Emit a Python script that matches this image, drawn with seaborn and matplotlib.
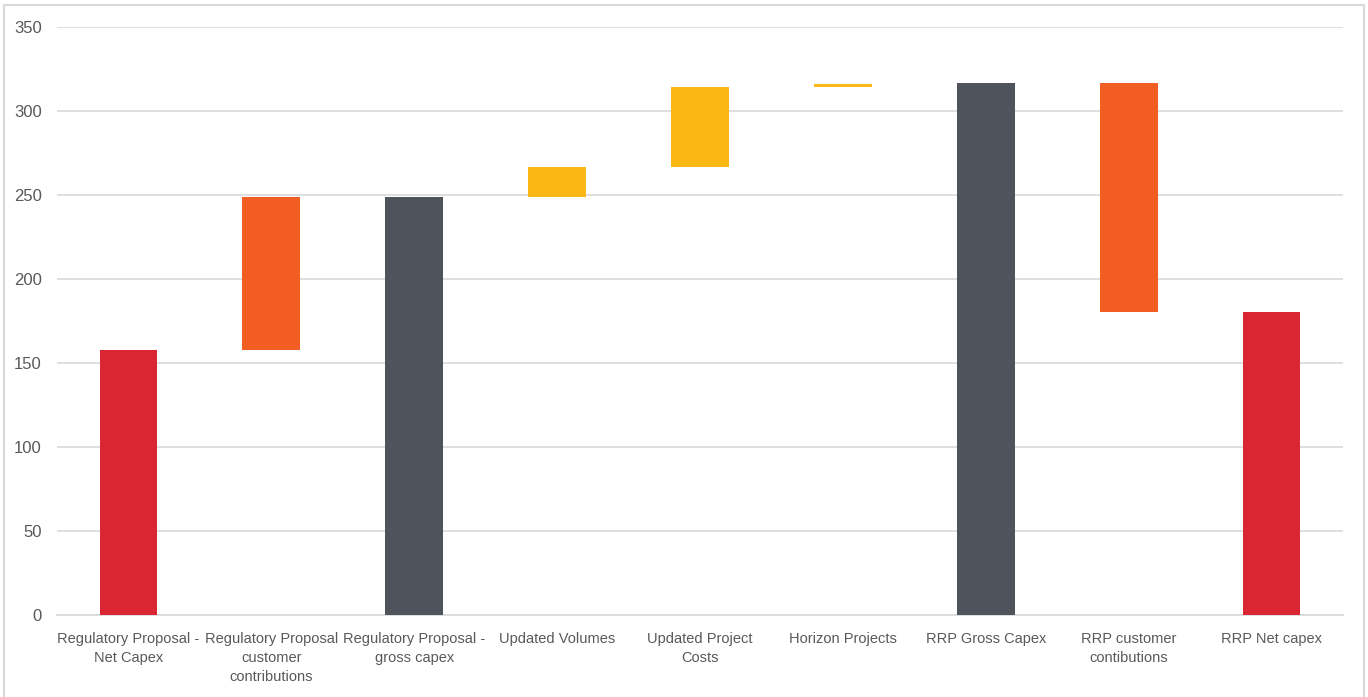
import matplotlib
matplotlib.use("Agg")
import matplotlib.pyplot as plt
from matplotlib.patches import Rectangle
import seaborn as sns
import pandas as pd

# Capex bridge: regulatory proposal net capex to RRP net capex
categories = [
    "Regulatory Proposal -\nNet Capex",
    "Regulatory Proposal\ncustomer\ncontributions",
    "Regulatory Proposal -\ngross capex",
    "Updated Volumes",
    "Updated Project\nCosts",
    "Horizon Projects",
    "RRP Gross Capex",
    "RRP customer\ncontibutions",
    "RRP Net capex",
]
# totals are absolute levels, steps are changes from the previous level
values = [158, 91, 249, 17.5, 48, 1.8, 316.5, -136, 180.5]
kinds = ["net", "contrib", "total", "step", "step", "step", "total", "contrib", "net"]
colors = {"net": "#DA2532", "contrib": "#F15D22", "total": "#4F535B", "step": "#FBB715"}

# running level for each bar: bottom and top of every floating segment
bottoms, tops = [], []
level = 0.0
for v, k in zip(values, kinds):
    if k in ("net", "total"):
        bottoms.append(0.0)
        tops.append(v)
        level = v
    else:
        start, level = level, level + v
        bottoms.append(min(start, level))
        tops.append(max(start, level))

df = pd.DataFrame({"category": categories, "top": tops, "bottom": bottoms, "kind": kinds})

sns.set_theme(style="white")
plt.rcParams["font.family"] = ["Liberation Sans", "DejaVu Sans"]

fig, ax = plt.subplots(figsize=(13.68, 6.97), dpi=100)
fig.subplots_adjust(left=0.0417, right=0.9817, top=0.9613, bottom=0.1172)

sns.barplot(data=df, x="category", y="top", hue="category",
            palette=[colors[k] for k in kinds], legend=False,
            width=0.405, saturation=1, ax=ax, zorder=3)

# lift each bar to float between its bottom and top
for patch, b, t in zip(ax.patches, bottoms, tops):
    patch.set_y(b)
    patch.set_height(t - b)
    patch.set_linewidth(0)

ax.set_ylim(0, 350)
ax.set_yticks(range(0, 351, 50))
ax.yaxis.grid(True, color="#D9D9D9", linewidth=1.2, zorder=0)
ax.set_axisbelow(True)
ax.set_xlabel("")
ax.set_ylabel("")
for side in ("top", "right", "left"):
    ax.spines[side].set_visible(False)
ax.spines["bottom"].set_color("#D9D9D9")
ax.spines["bottom"].set_linewidth(1.2)
ax.tick_params(axis="both", length=0, labelcolor="#595959")
ax.tick_params(axis="y", pad=11, labelsize=12)
ax.tick_params(axis="x", pad=12, labelsize=10.5)
for lbl in ax.get_xticklabels():
    lbl.set_linespacing(1.45)

# light frame round the whole chart
fig.patches.append(Rectangle((4 / 1368, -0.01), 1360 / 1368, 1 - 5 / 697 + 0.01,
                             transform=fig.transFigure, fill=False,
                             edgecolor="#D9D9D9", linewidth=1.5))

fig.savefig("out.png", dpi=100)
